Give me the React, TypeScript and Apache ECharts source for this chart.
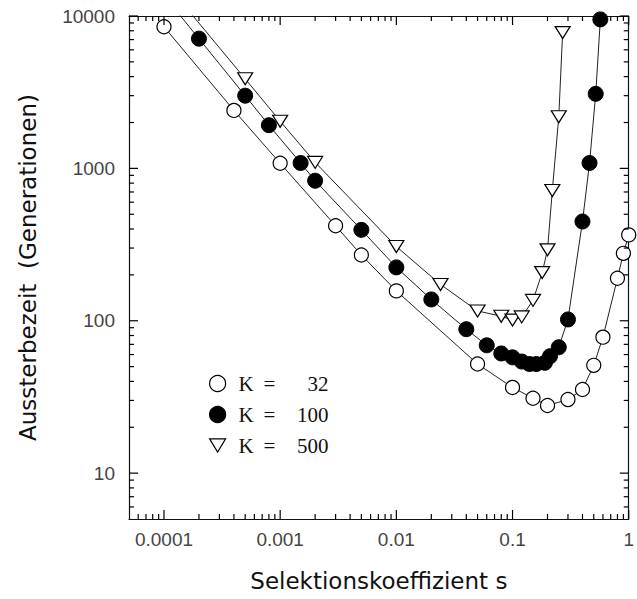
import React, { useEffect, useRef } from "react";
import * as echarts from "echarts";

// K = 32 (open circles)
const sK32 = [0.0001, 0.0004, 0.001, 0.003, 0.005, 0.01, 0.05, 0.1, 0.15, 0.2, 0.3, 0.4, 0.5, 0.6, 0.8, 0.9, 1.0];
const tK32 = [8500, 2400, 1080, 420, 270, 157, 52, 36.5, 31, 27.8, 30.4, 35.4, 51, 78, 190, 277, 366];

// K = 100 (filled circles)
const sK100 = [0.0001, 0.0002, 0.0005, 0.0008, 0.0015, 0.002, 0.005, 0.01, 0.02, 0.04, 0.06, 0.08, 0.1, 0.12, 0.14, 0.16, 0.19, 0.21, 0.25, 0.3, 0.4, 0.46, 0.52, 0.57];
const tK100 = [13600, 7100, 3000, 1920, 1085, 830, 395, 224, 138, 88, 69, 61, 57.5, 54, 52, 52, 53, 58.5, 67, 102, 448, 1085, 3085, 9500];

// K = 500 (down triangles)
const sK500 = [0.0001, 0.0005, 0.001, 0.002, 0.01, 0.024, 0.05, 0.08, 0.1, 0.12, 0.15, 0.18, 0.2, 0.22, 0.25, 0.27];
const tK500 = [17000, 3870, 2040, 1095, 307, 173, 116, 107, 101, 106, 136, 207, 292, 716, 2180, 7780];

const seriesNames = ["K = 32", "K = 100", "K = 500"];
const legendNumbers = ["32", "100", "500"];

const xTickLabels = ["0.0001", "0.001", "0.01", "0.1", "1"];
const yTickLabels = ["10", "100", "1000", "10000"];

// tick marks (decades and 2..9 sub-divisions)
const xDecades = [0.00001, 0.0001, 0.001, 0.01, 0.1];
const yDecades = [1, 10, 100, 1000];
const xMajorTicks = [0.0001, 0.001, 0.01, 0.1, 1];
const yMajorTicks = [10, 100, 1000, 10000];
const minorMantissas = [2, 3, 4, 5, 6, 7, 8, 9];

const X_MIN = 0.00005;
const X_MAX = 1;
const Y_MIN = 5;
const Y_MAX = 10000;

const TRI = "path://M0,0L12,0L6,10Z";

function pairs(xs: number[], ys: number[]) {
  return xs.map((x, i) => [x, ys[i]]);
}

function fmt(v: number, labels: string[]) {
  const s = String(+Number(v).toPrecision(6));
  return labels.indexOf(s) >= 0 ? s : "";
}

function minorTicks(decades: number[], lo: number, hi: number) {
  const out: number[] = [];
  decades.forEach((d) =>
    minorMantissas.forEach((m) => {
      const v = +(d * m).toPrecision(6);
      if (v > lo && v < hi) out.push(v);
    })
  );
  return out;
}

export default function App() {
  const ref = useRef<HTMLDivElement>(null);

  useEffect(() => {
    if (!ref.current) return;
    const chart = echarts.init(ref.current, null, { renderer: "svg" });

    const labelFont = { fontFamily: "Liberation Sans, Arial, sans-serif", fontSize: 19, color: "#444" };
    const nameFont = { fontFamily: "DejaVu Sans, sans-serif", fontSize: 23, color: "#111" };
    const axisLine = () => ({ show: true, lineStyle: { color: "#111", width: 1.2 } });
    const lineStyle = { color: "#222", width: 1 };

    const MAJ = 9;
    const MIN = 5;
    // [x, y, length, side (0 bottom, 1 top, 2 left, 3 right)]
    const tickData: number[][] = [];
    const xMinor = minorTicks(xDecades, X_MIN, X_MAX);
    const yMinor = minorTicks(yDecades, Y_MIN, Y_MAX);
    [0, 1].forEach((side) => {
      const yy = side === 0 ? Y_MIN : Y_MAX;
      xMajorTicks.forEach((v) => tickData.push([v, yy, MAJ, side]));
      xMinor.forEach((v) => tickData.push([v, yy, MIN, side]));
    });
    [2, 3].forEach((side) => {
      const xx = side === 2 ? X_MIN : X_MAX;
      yMajorTicks.forEach((v) => tickData.push([xx, v, MAJ, side]));
      yMinor.forEach((v) => tickData.push([xx, v, MIN, side]));
    });

    const tickStyle = { stroke: "#000", lineWidth: 1.2 };

    chart.setOption({
      animation: false,
      backgroundColor: "#fff",
      grid: { left: 129, right: 5, top: 16, bottom: 80, containLabel: false },
      xAxis: [
        {
          type: "log",
          logBase: 10,
          min: X_MIN,
          max: X_MAX,
          position: "bottom",
          axisLine: axisLine(),
          axisTick: { show: false },
          splitLine: { show: false },
          name: "Selektionskoeffizient s",
          nameLocation: "middle",
          nameGap: 50,
          nameTextStyle: nameFont,
          axisLabel: {
            ...labelFont,
            margin: 11,
            formatter: (v: number) => fmt(v, xTickLabels),
          },
        },
        {
          type: "log",
          logBase: 10,
          min: X_MIN,
          max: X_MAX,
          position: "top",
          axisLine: axisLine(),
          axisTick: { show: false },
          axisLabel: { show: false },
          splitLine: { show: false },
        },
      ],
      yAxis: [
        {
          type: "log",
          logBase: 10,
          min: Y_MIN,
          max: Y_MAX,
          position: "left",
          axisLine: axisLine(),
          axisTick: { show: false },
          splitLine: { show: false },
          name: "Aussterbezeit  (Generationen)",
          nameLocation: "middle",
          nameGap: 90,
          nameRotate: 90,
          nameTextStyle: nameFont,
          axisLabel: {
            ...labelFont,
            margin: 14,
            formatter: (v: number) => fmt(v, yTickLabels),
          },
        },
        {
          type: "log",
          logBase: 10,
          min: Y_MIN,
          max: Y_MAX,
          position: "right",
          axisLine: axisLine(),
          axisTick: { show: false },
          axisLabel: { show: false },
          splitLine: { show: false },
        },
      ],
      legend: {
        show: true,
        orient: "vertical",
        left: 204,
        top: 368,
        itemWidth: 16,
        itemHeight: 16,
        itemGap: 10,
        selectedMode: false,
        data: [
          { name: seriesNames[0], icon: "circle", itemStyle: { color: "#fff", borderColor: "#000", borderWidth: 1.2 } },
          { name: seriesNames[1], icon: "circle", itemStyle: { color: "#000", borderColor: "#000", borderWidth: 1.2 } },
          { name: seriesNames[2], icon: TRI, itemStyle: { color: "#fff", borderColor: "#000", borderWidth: 1.2 } },
        ],
        formatter: (name: string) => {
          const i = seriesNames.indexOf(name);
          return "{k|K}{e|=}{n|" + legendNumbers[i] + "}";
        },
        textStyle: {
          fontFamily: "Liberation Serif, Times New Roman, serif",
          fontSize: 21,
          color: "#111",
          rich: {
            k: { fontFamily: "Liberation Serif, serif", fontSize: 21, color: "#111", width: 25, padding: [0, 0, 0, 8], lineHeight: 16 },
            e: { fontFamily: "Liberation Serif, serif", fontSize: 21, color: "#111", width: 20, lineHeight: 16 },
            n: { fontFamily: "Liberation Serif, serif", fontSize: 21, color: "#111", width: 45, align: "right", lineHeight: 16 },
          },
        },
      },
      series: [
        {
          type: "custom",
          xAxisIndex: 0,
          yAxisIndex: 0,
          clip: false,
          silent: true,
          z: 4,
          data: tickData,
          renderItem: (params: any, api: any) => {
            const x = api.value(0);
            const y = api.value(1);
            const len = api.value(2);
            const side = api.value(3);
            const p = api.coord([x, y]);
            let shape;
            if (side === 0) shape = { x1: p[0], y1: p[1], x2: p[0], y2: p[1] - len };
            else if (side === 1) shape = { x1: p[0], y1: p[1], x2: p[0], y2: p[1] + len };
            else if (side === 2) shape = { x1: p[0], y1: p[1], x2: p[0] + len, y2: p[1] };
            else shape = { x1: p[0], y1: p[1], x2: p[0] - len, y2: p[1] };
            return { type: "line", shape, style: tickStyle };
          },
        },
        {
          name: seriesNames[0],
          type: "line",
          data: pairs(sK32, tK32),
          symbol: "circle",
          symbolSize: 14,
          showAllSymbol: true,
          lineStyle,
          itemStyle: { color: "#fff", borderColor: "#000", borderWidth: 1.2 },
          clip: true,
          z: 3,
        },
        {
          name: seriesNames[1],
          type: "line",
          data: pairs(sK100, tK100),
          symbol: "circle",
          symbolSize: 15,
          showAllSymbol: true,
          lineStyle,
          itemStyle: { color: "#000", borderColor: "#000", borderWidth: 1 },
          clip: true,
          z: 3,
        },
        {
          name: seriesNames[2],
          type: "line",
          data: pairs(sK500, tK500),
          symbol: TRI,
          symbolSize: [15, 12],
          showAllSymbol: true,
          lineStyle,
          itemStyle: { color: "#fff", borderColor: "#000", borderWidth: 1.2 },
          clip: true,
          z: 3,
        },
      ],
    });

    return () => chart.dispose();
  }, []);

  return (
    <div
      ref={ref}
      style={{ position: "fixed", left: 0, top: 0, width: 637, height: 599, background: "#fff" }}
    />
  );
}
